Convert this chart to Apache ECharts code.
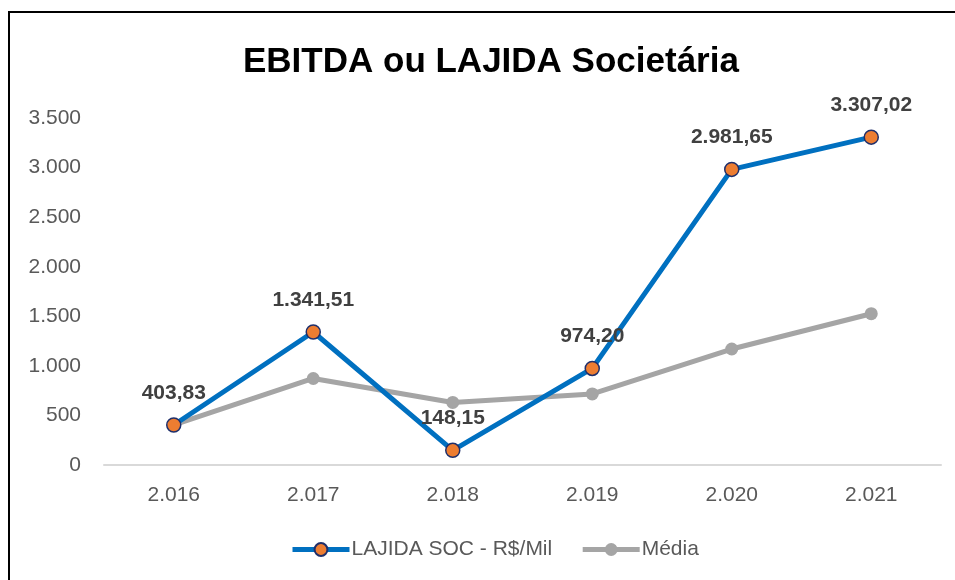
<!DOCTYPE html>
<html>
<head>
<meta charset="utf-8">
<script src="https://cdn.jsdelivr.net/npm/echarts@6/dist/echarts.min.js"></script>
<style>
html,body{margin:0;padding:0;background:#fff;}
#c{width:955px;height:580px;}
</style>
</head>
<body>
<div id="c"></div>
<script>
var categories = ['2.016','2.017','2.018','2.019','2.020','2.021'];
var lajida = [403.83, 1341.51, 148.15, 974.20, 2981.65, 3307.02];
var media = [403.83, 872.67, 631.16, 716.92, 1169.87, 1526.06];
var yTicks = [0, 500, 1000, 1500, 2000, 2500, 3000, 3500];

function fmt(v, dec) {
  var s = v.toFixed(dec);
  var parts = s.split('.');
  var intp = parts[0].replace(/\B(?=(\d{3})+(?!\d))/g, '.');
  return parts.length > 1 ? intp + ',' + parts[1] : intp;
}

var FONT = 'Liberation Sans, Arial, sans-serif';
var chart = echarts.init(document.getElementById('c'));
chart.setOption({
  backgroundColor: '#ffffff',
  animation: false,
  title: {
    text: 'EBITDA ou LAJIDA Societária',
    left: 238,
    top: 40,
    textStyle: { fontFamily: FONT, fontWeight: 'bold', fontSize: 35, color: '#000000' }
  },
  graphic: [{
    type: 'polyline',
    shape: { points: [[9, 580], [9, 12], [955, 12]] },
    style: { stroke: '#000000', lineWidth: 2, fill: null }
  }],
  legend: {
    bottom: 15,
    left: 285,
    itemWidth: 57,
    itemHeight: 16,
    itemGap: 28,
    lineStyle: { width: 5 },
    textStyle: { fontFamily: FONT, fontSize: 21, color: '#595959', padding: [0, 0, 0, -3] },
    data: ['LAJIDA SOC - R$/Mil', 'Média']
  },
  grid: { left: 104, right: 14, top: 118, bottom: 115 },
  xAxis: {
    type: 'category',
    data: categories,
    boundaryGap: true,
    axisLine: { lineStyle: { color: '#D9D9D9', width: 2 } },
    axisTick: { show: false },
    axisLabel: { fontFamily: FONT, fontSize: 21, color: '#595959', margin: 20 }
  },
  yAxis: {
    type: 'value',
    min: 0, max: 3500, interval: 500,
    splitLine: { show: false },
    axisLine: { show: false },
    axisTick: { show: false },
    axisLabel: { fontFamily: FONT, fontSize: 21, color: '#595959', margin: 23,
      formatter: function (v) { return fmt(v, 0); } }
  },
  series: [{
    name: 'Média',
    type: 'line',
    data: media,
    z: 2,
    symbol: 'circle',
    symbolSize: 13,
    lineStyle: { color: '#A5A5A5', width: 5 },
    itemStyle: { color: '#A5A5A5' }
  }, {
    name: 'LAJIDA SOC - R$/Mil',
    type: 'line',
    data: lajida,
    z: 3,
    symbol: 'circle',
    symbolSize: 14,
    lineStyle: { color: '#0070C0', width: 5 },
    itemStyle: { color: '#ED7D31', borderColor: '#1F2F6B', borderWidth: 1.5 },
    label: {
      show: true,
      position: 'top',
      distance: 14,
      fontFamily: FONT,
      fontWeight: 'bold',
      fontSize: 21,
      color: '#404040',
      formatter: function (p) { return fmt(p.value, 2); }
    }
  }]
});
</script>
</body>
</html>
